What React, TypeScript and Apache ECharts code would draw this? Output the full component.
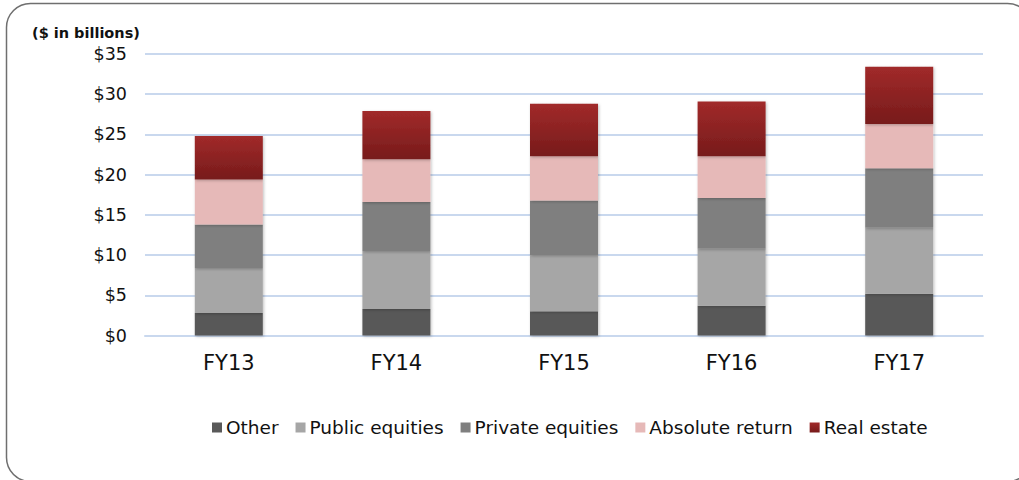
import React, { useEffect, useRef } from "react";
import * as echarts from "echarts";

const categories = ["FY13", "FY14", "FY15", "FY16", "FY17"];
const other = [2.8, 3.3, 3.0, 3.7, 5.2];
const publicEquities = [5.6, 7.2, 7.0, 7.1, 8.2];
const privateEquities = [5.4, 6.1, 6.8, 6.3, 7.4];
const absoluteReturn = [5.6, 5.3, 5.5, 5.2, 5.5];
const realEstate = [5.4, 6.0, 6.5, 6.8, 7.1];
const yTicks = { min: 0, max: 35, interval: 5 };

export default function App() {
  const ref = useRef<HTMLDivElement>(null);
  useEffect(() => {
    if (!ref.current) return;
    const chart = echarts.init(ref.current, null, { renderer: "svg" });
    const font = "DejaVu Sans";
    const shadow = {
      shadowColor: "rgba(0,0,0,0.25)",
      shadowBlur: 3,
      shadowOffsetX: 1,
      shadowOffsetY: 1,
    };
    const reGrad = new echarts.graphic.LinearGradient(0, 0, 0, 1, [
      { offset: 0, color: "#a12a2a" },
      { offset: 1, color: "#771b1b" },
    ]);
    const mk = (name: string, data: number[], color: any) => ({
      name,
      type: "bar",
      stack: "total",
      barWidth: 68,
      data,
      itemStyle: { color, ...shadow },
    });
    chart.setOption({
      animation: false,
      backgroundColor: "#ffffff",
      grid: { left: 145, right: 36, top: 54, bottom: 144.5 },
      xAxis: {
        type: "category",
        data: categories,
        axisLine: { show: true, lineStyle: { color: "#c9d8ee", width: 2 } },
        axisTick: { show: false },
        axisLabel: { color: "#111", fontFamily: font, fontSize: 21, margin: 17 },
      },
      yAxis: {
        type: "value",
        min: yTicks.min,
        max: yTicks.max,
        interval: yTicks.interval,
        axisLine: { show: false },
        axisTick: { show: false },
        splitLine: { lineStyle: { color: "#c9d8ee", width: 2 } },
        axisLabel: {
          color: "#111",
          fontFamily: font,
          fontSize: 17.5,
          margin: 18,
          formatter: (v: number) => "$" + v,
        },
      },
      legend: {
        bottom: 38,
        left: 207,
        itemWidth: 10,
        itemHeight: 10,
        itemGap: 17,
        icon: "rect",
        textStyle: { fontFamily: font, fontSize: 18.5, color: "#111", padding: [0, 0, 0, -1] },
        data: ["Other", "Public equities", "Private equities", "Absolute return", "Real estate"],
      },
      graphic: [
        {
          type: "rect",
          shape: { x: 6.5, y: 3.5, width: 1025, height: 478, r: 24 },
          style: { fill: "none", stroke: "#6f6f6f", lineWidth: 1.5 },
          silent: true,
        },
        {
          type: "text",
          left: 32,
          top: 25,
          style: {
            text: "($ in billions)",
            fontFamily: font,
            fontWeight: "bold",
            fontSize: 14.5,
            fill: "#111",
          },
        },
      ],
      series: [
        mk("Other", other, "#595959"),
        mk("Public equities", publicEquities, "#a6a6a6"),
        mk("Private equities", privateEquities, "#7f7f7f"),
        mk("Absolute return", absoluteReturn, "#e6b9b8"),
        mk("Real estate", realEstate, reGrad),
      ],
    });
    return () => chart.dispose();
  }, []);
  return (
    <div
      ref={ref}
      style={{ position: "fixed", left: 0, top: 0, width: 1019, height: 480 }}
    />
  );
}
